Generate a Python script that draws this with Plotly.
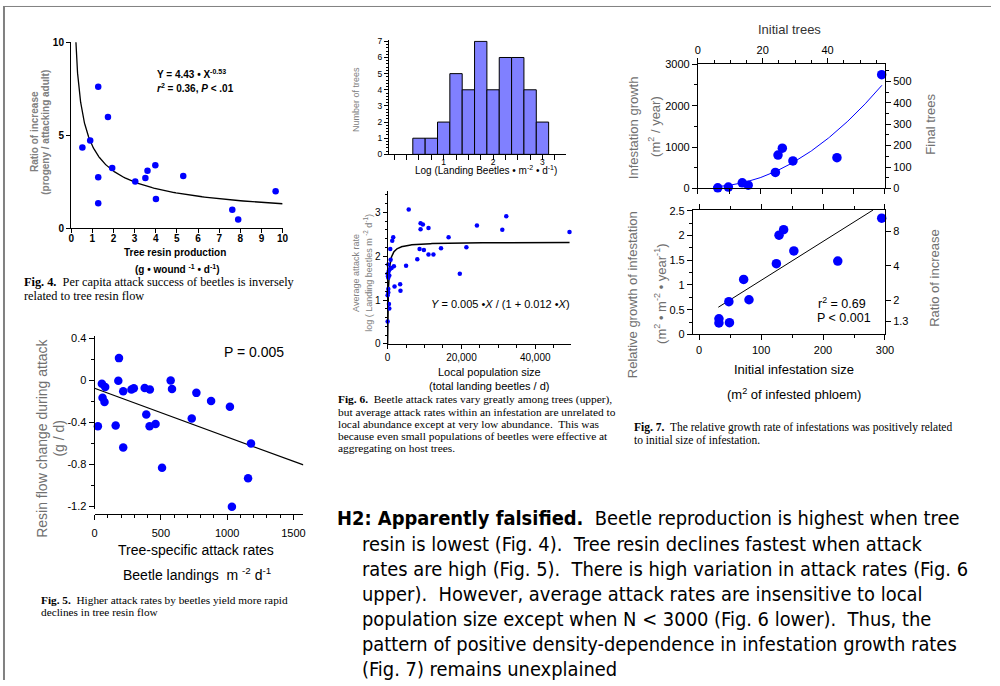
import numpy as np
import plotly.graph_objects as go

W, H = 1000, 686
ARIAL = "Liberation Sans, Arial, sans-serif"
TIMES = "Liberation Serif, Times New Roman, serif"
BODY = "Tahoma, DejaVu Sans Condensed, Roboto, sans-serif"
BLUE = "#0000ff"
GRAY = "#808080"

# ---------------- Fig. 4 data ----------------
fig4_resin = [1.28, 1.74, 0.90, 0.53, 1.94, 1.28, 1.28, 3.03, 3.51, 3.61, 3.98, 4.01, 5.30, 7.62, 7.90, 9.67]
fig4_ratio = [7.61, 5.98, 4.71, 4.34, 3.24, 2.73, 1.33, 2.51, 2.69, 3.08, 3.38, 1.56, 2.80, 0.99, 0.46, 1.98]
fig4_fit_a, fig4_fit_b = 4.43, -0.53
fig4_fit_xmin, fig4_fit_xmax = 0.06, 10.0

# ---------------- Fig. 5 data ----------------
fig5_attack = [184, 179, 55, 80, 60, 75, 25, 159, 216, 216, 278, 296, 378, 417, 390, 415, 460, 509,
               574, 584, 768, 733, 879, 1021, 1180, 1158, 1036]
fig5_change = [0.212, -0.003, -0.031, -0.062, -0.165, -0.206, -0.437, -0.430, -0.639, -0.103, -0.087,
               -0.075, -0.072, -0.087, -0.324, -0.437, -0.415, -0.833, 0.0, -0.081, -0.119, -0.362,
               -0.197, -0.250, -0.602, -0.933, -1.204]
fig5_fit_x = [0, 1575]
fig5_fit_intercept, fig5_fit_slope = -0.075, -0.0004635
fig5_x_ticks = [0, 500, 1000, 1500]
fig5_y_ticks = [-1.2, -0.8, -0.4, 0, 0.4]
fig5_y_ticktext = ["-1.2", "-0.8", "-0.4", "0", "0.4"]

# ---------------- Fig. 6 upper (histogram) ----------------
fig6_bin_centers = [0.5, 0.75, 1.0, 1.25, 1.5, 1.75, 2.0, 2.25, 2.5, 2.75, 3.0]
fig6_counts = [1, 1, 2, 5, 4, 7, 4, 6, 6, 4, 2]
fig6_bin_width = 0.25

# ---------------- Fig. 6 lower ----------------
fig6_pop = [5715, 8930, 9555, 8930, 11073, 24200, 32148, 31076, 49290, 16520, 1518, 1250, 714, 8660,
            9823, 14466, 11073, 12413, 21343, 8037, 804, 5000, 1697, 1072, 179, 625, 0, 446, 179,
            19557, 1875, 3393, 3482, 179, 179, 0, 357, 446, 0, 300, 100]
fig6_rate = [3.06, 2.75, 2.72, 2.61, 2.64, 2.70, 2.91, 2.60, 2.55, 2.43, 2.43, 2.35, 2.16, 2.16,
             2.14, 2.18, 2.04, 2.04, 2.20, 1.93, 1.92, 1.78, 1.77, 1.73, 1.81, 1.71, 1.60, 1.56, 1.51,
             1.60, 1.31, 1.36, 1.21, 1.25, 1.17, 1.11, 0.91, 0.81, 0.51, 1.66, 1.54]
fig6_fit_ymax, fig6_fit_k = 2.32, 180.0
fig6_fit_xmax = 49300
fig6_x_ticks = [0, 20000, 40000]
fig6_x_ticktext = ["0", "20,000", "40,000"]

# ---------------- Fig. 7 data ----------------
fig7_top_size = [31.9, 48.9, 71.2, 80.7, 124.3, 128.5, 135.4, 152.4, 223.0, 294.7]
fig7_top_growth = [16, 32, 135, 79, 388, 807, 974, 665, 744, 2747]
fig7_top_fit_coef = [45.1, -0.991, 0.03147]   # c0 + c1*x + c2*x^2
fig7_top_fit_x = [25, 295]
fig7_size = [32.0, 32.0, 48.0, 49.0, 71.9, 80.5, 124.7, 129.0, 136.4, 152.9, 223.8, 294.7]
fig7_rel_growth = [0.317, 0.231, 0.661, 0.238, 1.111, 0.701, 1.429, 2.004, 2.116, 1.687, 1.481, 2.348]
fig7_fit_x = [31, 280.8]
fig7_fit_intercept, fig7_fit_slope = 0.306, 0.00786
fig7_ratio_ticks = [1.3, 2, 4, 8]
fig7_ratio_ticktext = ["1.3", "2", "4", "8"]
fig7_rel_ticks = [0, 0.5, 1, 1.5, 2, 2.5]
fig7_rel_ticktext = ["0", "0.5", "1", "1.5", "2", "2.5"]


def px_x(px):
    return px / W


def px_y(py):
    return 1 - py / H


def dom_x(a, b):
    return [px_x(a), px_x(b)]


def dom_y(top, bottom):
    return [px_y(bottom), px_y(top)]


def ax(**kw):
    base = dict(showline=True, linecolor="black", linewidth=1, ticks="outside", tickcolor="black",
                ticklen=4, tickwidth=1, showgrid=False, zeroline=False, fixedrange=True,
                tickfont=dict(family=ARIAL, size=11, color="black"))
    base.update(kw)
    return base


fig = go.Figure()

# Fig 4
fx4 = np.geomspace(fig4_fit_xmin, fig4_fit_xmax, 300)
fig.add_trace(go.Scatter(x=fx4, y=fig4_fit_a * fx4 ** fig4_fit_b, mode="lines",
                         line=dict(color="black", width=1.3), xaxis="x", yaxis="y", hoverinfo="skip"))
fig.add_trace(go.Scatter(x=fig4_resin, y=fig4_ratio, mode="markers", cliponaxis=False,
                         marker=dict(color=BLUE, size=6.5), xaxis="x", yaxis="y"))

# Fig 5
fx5 = np.array(fig5_fit_x, dtype=float)
fig.add_trace(go.Scatter(x=fx5, y=fig5_fit_intercept + fig5_fit_slope * fx5, mode="lines",
                         line=dict(color="black", width=1.2), xaxis="x2", yaxis="y2"))
fig.add_trace(go.Scatter(x=fig5_attack, y=fig5_change, mode="markers", cliponaxis=False,
                         marker=dict(color=BLUE, size=8.5), xaxis="x2", yaxis="y2"))

# Fig 6 histogram
fig.add_trace(go.Bar(x=fig6_bin_centers, y=fig6_counts, width=fig6_bin_width,
                     marker=dict(color="#8080ff", line=dict(color="black", width=1)),
                     xaxis="x3", yaxis="y3"))

# Fig 6 lower
fx6 = np.concatenate([[0], np.geomspace(1, fig6_fit_xmax, 300)])
fig.add_trace(go.Scatter(x=fx6, y=fig6_fit_ymax * fx6 / (fig6_fit_k + fx6), mode="lines",
                         line=dict(color="black", width=1.5), xaxis="x4", yaxis="y4"))
fig.add_trace(go.Scatter(x=fig6_pop, y=fig6_rate, mode="markers", cliponaxis=False,
                         marker=dict(color=BLUE, size=4.5), xaxis="x4", yaxis="y4"))

# Fig 7 top
fx7 = np.linspace(fig7_top_fit_x[0], fig7_top_fit_x[1], 200)
c0, c1, c2 = fig7_top_fit_coef
fig.add_trace(go.Scatter(x=fx7, y=c0 + c1 * fx7 + c2 * fx7 ** 2, mode="lines",
                         line=dict(color=BLUE, width=1), xaxis="x5", yaxis="y5"))
fig.add_trace(go.Scatter(x=fig7_top_size, y=fig7_top_growth, mode="markers", cliponaxis=False,
                         marker=dict(color=BLUE, size=9.5), xaxis="x5", yaxis="y5"))
fig.add_trace(go.Scatter(x=[None], y=[None], mode="markers", xaxis="x6", yaxis="y6"))

# Fig 7 lower
fl7 = np.array(fig7_fit_x, dtype=float)
fig.add_trace(go.Scatter(x=fl7, y=fig7_fit_intercept + fig7_fit_slope * fl7, mode="lines",
                         line=dict(color="black", width=1), xaxis="x7", yaxis="y7"))
fig.add_trace(go.Scatter(x=fig7_size, y=fig7_rel_growth, mode="markers", cliponaxis=False,
                         marker=dict(color=BLUE, size=9.5), xaxis="x7", yaxis="y7"))
fig.add_trace(go.Scatter(x=[None], y=[None], mode="markers", xaxis="x7", yaxis="y8"))

boldf = dict(family=ARIAL, size=10, color="black", weight="bold")

layout = dict(
    width=W, height=H, autosize=False, showlegend=False,
    margin=dict(l=0, r=0, t=0, b=0, pad=0),
    paper_bgcolor="white", plot_bgcolor="white",
    # Fig 4
    xaxis=ax(domain=dom_x(69, 283), range=[0, 10], tick0=0, dtick=1, anchor="y", tickfont=boldf,
             linewidth=1.2, ticklabelstandoff=-3),
    yaxis=ax(domain=dom_y(37, 226), range=[0, 10], tick0=0, dtick=5, anchor="x", tickfont=boldf,
             linewidth=1.2),
    # Fig 5
    xaxis2=ax(domain=dom_x(92.7, 304), range=[0, 1575], tickvals=fig5_x_ticks, anchor="free",
              position=px_y(517.3), ticklen=5, ticklabelstandoff=4,
              minor=dict(tickmode="linear", tick0=0, dtick=100, ticks="outside", ticklen=3,
                         tickcolor="black")),
    yaxis2=ax(domain=dom_y(336, 511.7), range=[-1.2225, 0.4215], tickvals=fig5_y_ticks,
              ticktext=fig5_y_ticktext, anchor="x2", ticklen=5,
              minor=dict(tickmode="linear", tick0=0, dtick=0.2, ticks="outside", ticklen=3,
                         tickcolor="black")),
    # Fig 6 hist
    xaxis3=ax(domain=dom_x(390.7, 570), range=[-0.107, 3.48], tickvals=[1, 2, 3], anchor="y3",
              ticklen=5, tickfont=dict(family=ARIAL, size=8.5, color="black"), ticklabelstandoff=-6,
              minor=dict(tickmode="linear", tick0=0, dtick=0.25, ticks="outside", ticklen=5,
                         tickcolor="black")),
    yaxis3=ax(domain=dom_y(35, 151), range=[0, 7.06], tick0=0, dtick=1, anchor="x3", ticklen=4,
              tickfont=dict(family=ARIAL, size=8.5, color="black"),
              minor=dict(tickmode="linear", tick0=0, dtick=0.2, ticks="outside", ticklen=2,
                         tickcolor="black")),
    # Fig 6 lower
    xaxis4=ax(domain=dom_x(389.3, 575), range=[0, 49720], tickvals=fig6_x_ticks,
              ticktext=fig6_x_ticktext, anchor="y4", tickfont=dict(family=ARIAL, size=10, color="black"),
              minor=dict(tickmode="linear", tick0=0, dtick=5000, ticks="outside", ticklen=3,
                         tickcolor="black")),
    yaxis4=ax(domain=dom_y(188, 344), range=[0, 3.49], tick0=0, dtick=1, anchor="x4",
              tickfont=dict(family=ARIAL, size=10, color="black"),
              minor=dict(tickmode="linear", tick0=0, dtick=0.2, ticks="outside", ticklen=2,
                         tickcolor="black")),
    # Fig 7 top
    xaxis5=ax(domain=dom_x(703.3, 892.7), range=[0, 300], tick0=0, dtick=50, showticklabels=False,
              anchor="y5", ticklen=5),
    yaxis5=ax(domain=dom_y(59.3, 185.7), range=[0, 3000], tick0=0, dtick=1000, anchor="x5", ticklen=5,
              minor=dict(tickmode="linear", tick0=0, dtick=500, ticks="outside", ticklen=3,
                         tickcolor="black")),
    xaxis6=ax(overlaying="x5", side="top", anchor="y5", range=[0, 57.7], tick0=0, dtick=20, ticklen=5,
              minor=dict(tickmode="linear", tick0=0, dtick=5, ticks="outside", ticklen=3,
                         tickcolor="black")),
    yaxis6=ax(overlaying="y5", side="right", anchor="x5", range=[0, 579.5], tick0=0, dtick=100,
              ticklen=5,
              minor=dict(tickmode="linear", tick0=0, dtick=50, ticks="outside", ticklen=3,
                         tickcolor="black")),
    # Fig 7 lower
    xaxis7=ax(domain=dom_x(698.3, 892.7), range=[-10, 300], tick0=0, dtick=100, anchor="y7",
              ticklen=5, mirror="ticks",
              minor=dict(tickmode="linear", tick0=0, dtick=50, ticks="outside", ticklen=3,
                         tickcolor="black")),
    yaxis7=ax(domain=dom_y(207.3, 334.3), range=[0, 2.52], tickvals=fig7_rel_ticks,
              ticktext=fig7_rel_ticktext, anchor="x7", ticklen=5,
              minor=dict(tickmode="linear", tick0=0, dtick=0.25, ticks="outside", ticklen=3,
                         tickcolor="black")),
    yaxis8=ax(overlaying="y7", side="right", anchor="x7", range=[0, 2.52],
              tickvals=list(np.log(fig7_ratio_ticks)), ticktext=fig7_ratio_ticktext, ticklen=5),
)
fig.update_layout(**layout)


def A(text, px, py, size, color="black", family=ARIAL, xanchor="left", yanchor="middle",
      angle=0, bold=False):
    return dict(text=text, x=px_x(px), y=px_y(py), xref="paper", yref="paper", xanchor=xanchor,
                yanchor=yanchor, showarrow=False, textangle=angle, borderpad=0,
                font=dict(size=size, color=color, family=family, weight="bold" if bold else "normal"))


NB = "\u00a0"
anns = [
    # Fig 4
    A("Ratio of increase", 31.7, 128, 10, GRAY, xanchor="center", angle=-90, bold=True),
    A("(progeny / attacking adult)", 43.5, 128, 10, GRAY, xanchor="center", angle=-90, bold=True),
    A("Tree resin production", 174, 251, 10, xanchor="center", bold=True),
    A("(g • wound <sup>-1</sup> • d<sup>-1</sup>)", 176, 268, 10, xanchor="center", bold=True),
    A("Y = 4.43 • X<sup>-0.53</sup>", 155, 69, 10, bold=True),
    A("<i>r</i><sup>2</sup> = 0.36, <i>P</i> &lt; .01", 155, 83, 10, bold=True),
    A("<b>Fig. 4.</b>" + NB + " Per capita attack success of beetles is inversely", 20, 281, 12.3,
      family=TIMES),
    A("related to tree resin flow", 20, 295, 12.3, family=TIMES),
    # Fig 5
    A("P = 0.005", 223, 352, 14),
    A("Resin flow change during attack", 40, 440, 14, "#707070", xanchor="center", angle=-90),
    A("(g / d)", 57, 440, 14, "#707070", xanchor="center", angle=-90),
    A("Tree-specific attack rates", 195, 554, 14, xanchor="center"),
    A("Beetle landings" + NB + " m <sup>-2</sup> d<sup>-1</sup>", 196, 578, 14, xanchor="center"),
    A("<b>Fig. 5.</b>" + NB + " Higher attack rates by beetles yield more rapid", 37, 605, 11.3,
      family=TIMES),
    A("declines in tree resin flow", 37, 617, 11.3, family=TIMES),
    # Fig 6
    A("Number of trees", 358, 95, 9, GRAY, xanchor="center", angle=-90),
    A("Log (Landing Beetles • m<sup>-2</sup> • d<sup>-1</sup>)", 489, 167, 10, xanchor="center"),
    A("Average attack rate", 358, 272, 9, GRAY, xanchor="center", angle=-90),
    A("log ( Landing beetles m <sup>-2</sup> d<sup>-1</sup>)", 370, 272, 9, GRAY, xanchor="center",
      angle=-90),
    A("<i>Y</i> = 0.005 •<i>X</i> / (1 + 0.012 •<i>X</i>)", 432, 303, 11),
    A("Local population size", 492, 373, 11, xanchor="center"),
    A("(total landing beetles / d)", 492, 387, 11, xanchor="center"),
    A("<b>Fig. 6.</b>" + NB + " Beetle attack rates vary greatly among trees (upper),", 338, 401, 11.4,
      family=TIMES),
    A("but average attack rates within an infestation are unrelated to", 338, 413.3, 11.4, family=TIMES),
    A("local abundance except at very low abundance." + NB + " This was", 338, 425.7, 11.4, family=TIMES),
    A("because even small populations of beetles were effective at", 338, 438, 11.4, family=TIMES),
    A("aggregating on host trees.", 338, 450.3, 11.4, family=TIMES),
    # Fig 7
    A("Initial trees", 796, 24, 13, "#333333", xanchor="center"),
    A("Infestation growth", 638, 124, 13, "#707070", xanchor="center", angle=-90),
    A("(m<sup>2</sup> / year)", 659, 123, 13, "#707070", xanchor="center", angle=-90),
    A("Final trees", 939, 120, 13, "#707070", xanchor="center", angle=-90),
    A("Relative growth of infestation", 638, 294, 13, "#707070", xanchor="center", angle=-90),
    A("(m<sup>2</sup> • m<sup>-2</sup> • year<sup>-1</sup>)", 665, 293, 13, "#707070", xanchor="center",
      angle=-90),
    A("Ratio of increase", 942, 277, 13, "#707070", xanchor="center", angle=-90),
    A("r<sup>2</sup> = 0.69", 824, 302.5, 12.5),
    A("P &lt; 0.001", 823, 318, 12.5),
    A("Initial infestation size", 801, 370, 13, xanchor="center"),
    A("(m<sup>2</sup> of infested phloem)", 801, 395, 13, xanchor="center"),
    A("<b>Fig. 7.</b>" + NB + " The relative growth rate of infestations was positively related", 638, 429,
      11.5, family=TIMES),
    A("to initial size of infestation.", 638, 442, 11.5, family=TIMES),
]

body_lines = [
    "<b>H2: Apparently falsified.</b>" + NB + " Beetle reproduction is highest when tree",
    "resin is lowest (Fig. 4)." + NB + " Tree resin declines fastest when attack",
    "rates are high (Fig. 5)." + NB + " There is high variation in attack rates (Fig. 6",
    "upper)." + NB + " However, average attack rates are insensitive to local",
    "population size except when N &lt; 3000 (Fig. 6 lower)." + NB + " Thus, the",
    "pattern of positive density-dependence in infestation growth rates",
    "(Fig. 7) remains unexplained",
]
body_y = [522, 548, 573.5, 599, 624.5, 650, 675]
for i, (t, yy) in enumerate(zip(body_lines, body_y)):
    anns.append(A(t, 337 if i == 0 else 362, yy, 19.9, family=BODY))

fig.update_layout(annotations=anns)

# thin page frame (top and left edges)
fig.add_shape(type="line", xref="paper", yref="paper", x0=0.001, x1=0.001, y0=0, y1=1,
              line=dict(color="#808080", width=2))
fig.add_shape(type="line", xref="paper", yref="paper", x0=0, x1=1, y0=0.9993, y1=0.9993,
              line=dict(color="#808080", width=1))

fig.write_html("out.html",
               config={"displayModeBar": False, "staticPlot": True},
               post_script="document.body.style.margin='0px';document.body.style.padding='0px';"
                           "document.body.style.overflow='hidden';")
